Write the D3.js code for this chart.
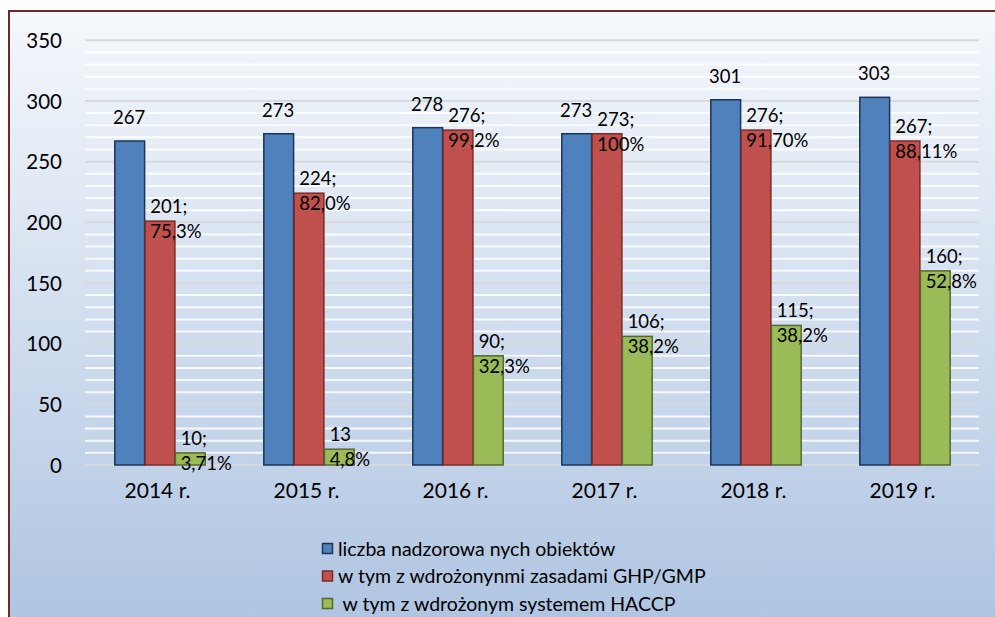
<!DOCTYPE html>
<html><head><meta charset="utf-8">
<script src="https://cdn.jsdelivr.net/npm/d3@7"></script>
<style>html,body{margin:0;padding:0;background:#fff;}svg{display:block;}</style>
</head><body>
<script>
const categories = ["2014 r.", "2015 r.", "2016 r.", "2017 r.", "2018 r.", "2019 r."];
const seriesNames = ["liczba nadzorowa nych obiektów", "w tym z wdrożonynmi zasadami GHP/GMP", " w tym z wdrożonym systemem HACCP"];
const totalObjects = [267, 273, 278, 273, 301, 303];
const ghpGmp = [201, 224, 276, 273, 276, 267];
const haccp = [10, 13, 90, 106, 115, 160];
const ghpLabels = ["201;|75,3%", "224;|82,0%", "276;|99,2%", "273;|100%", "276;|91,70%", "267;|88,11%"];
const haccpLabels = ["10;|3,71%", "13|4,8%", "90;|32,3%", "106;|38,2%", "115;|38,2%", "160;|52,8%"];
const yTicks = [0, 50, 100, 150, 200, 250, 300, 350];

(function () {
const W = 995, H = 617;
const FONT = "Lato, 'Open Sans', sans-serif";
const colors = ["#4f81bd", "#c0504d", "#9bbb59"];
const strokes = ["#1c3557", "#7a2b29", "#56672f"];

const svg = d3.select("body").append("svg").attr("width", W).attr("height", H);
const defs = svg.append("defs");
const grad = defs.append("linearGradient").attr("id", "bg").attr("x1", 0).attr("y1", 0).attr("x2", 0).attr("y2", 1);
grad.append("stop").attr("offset", "0%").attr("stop-color", "#f5f8fc");
grad.append("stop").attr("offset", "100%").attr("stop-color", "#aec4e1");

svg.append("rect").attr("x", 9).attr("y", 11).attr("width", W + 10).attr("height", H).attr("fill", "url(#bg)")
  .attr("stroke", "#6e2828").attr("stroke-width", 2);

const pLeft = 85, pRight = 979, pTop = 40.3, pBottom = 465;
const y = d3.scaleLinear().domain([0, 350]).range([pBottom, pTop]);
const x0 = d3.scaleBand().domain(categories).range([pLeft, pRight]).paddingInner(0.39).paddingOuter(0.195);
const x1 = d3.scaleBand().domain([0, 1, 2]).range([0, x0.bandwidth()]);

const minor = d3.range(10, 350, 10).filter(v => v % 50 !== 0);
svg.append("g").selectAll("line").data(minor).join("line")
  .attr("x1", pLeft).attr("x2", pRight).attr("y1", d => y(d)).attr("y2", d => y(d))
  .attr("stroke", "#ffffff").attr("stroke-opacity", 0.85).attr("stroke-width", 2);
svg.append("g").selectAll("line").data(yTicks).join("line")
  .attr("x1", pLeft).attr("x2", pRight).attr("y1", d => y(d)).attr("y2", d => y(d))
  .attr("stroke", "#d6d9dd").attr("stroke-width", 2);

const yAxis = d3.axisLeft(y).tickValues(yTicks).tickSize(0).tickPadding(0);
const gy = svg.append("g").attr("transform", "translate(62,0)").call(yAxis);
gy.select(".domain").remove();
gy.selectAll("text").attr("font-family", FONT).attr("font-size", 20.5).attr("fill", "#000").attr("dy", "0.35em");

const xAxis = d3.axisBottom(x0).tickSize(0).tickPadding(0);
const gx = svg.append("g").attr("transform", "translate(-2,483)").call(xAxis);
gx.select(".domain").remove();
gx.selectAll("text").attr("font-family", FONT).attr("font-size", 21).attr("fill", "#000");

const series = [totalObjects, ghpGmp, haccp];
const groups = svg.append("g").selectAll("g").data(categories).join("g")
  .attr("transform", d => `translate(${x0(d)},0)`);

series.forEach((vals, si) => {
  groups.append("rect")
    .attr("x", x1(si) + 0.75)
    .attr("y", (d, i) => y(vals[i]))
    .attr("width", x1.bandwidth() - 0.5)
    .attr("height", (d, i) => y(0) - y(vals[i]))
    .attr("fill", colors[si]).attr("stroke", strokes[si]).attr("stroke-width", 1.5);
});

groups.append("text")
  .attr("x", x1(0) + x1.bandwidth() / 2)
  .attr("y", (d, i) => y(totalObjects[i]) - 17)
  .attr("text-anchor", "middle")
  .attr("font-family", FONT).attr("font-size", 18.5).attr("fill", "#000")
  .text((d, i) => totalObjects[i]);

function twoLine(si, vals, labels) {
  const t = groups.append("text")
    .attr("font-family", FONT).attr("font-size", 18.5).attr("fill", "#000");
  t.append("tspan").attr("x", x1(si) + 6).attr("y", (d, i) => y(vals[i]) - 8)
    .text((d, i) => labels[i].split("|")[0]);
  t.append("tspan").attr("x", x1(si) + 6).attr("y", (d, i) => y(vals[i]) + 17)
    .text((d, i) => labels[i].split("|")[1]);
}
twoLine(1, ghpGmp, ghpLabels);
twoLine(2, haccp, haccpLabels);

const lg = svg.append("g").attr("transform", "translate(322,549)");
seriesNames.forEach((name, i) => {
  const row = lg.append("g").attr("transform", `translate(0,${i * 27.5})`);
  row.append("rect").attr("x", 0.5).attr("y", -5.5).attr("width", 10).attr("height", 10)
    .attr("fill", colors[i]).attr("stroke", strokes[i]).attr("stroke-width", 1.5);
  row.append("text").attr("x", 16).attr("y", 0).attr("dy", "0.35em")
    .attr("font-family", FONT).attr("font-size", 19.5).attr("fill", "#000")
    .attr("xml:space", "preserve").style("white-space", "pre").text(name);
});
})();
</script>
</body></html>
